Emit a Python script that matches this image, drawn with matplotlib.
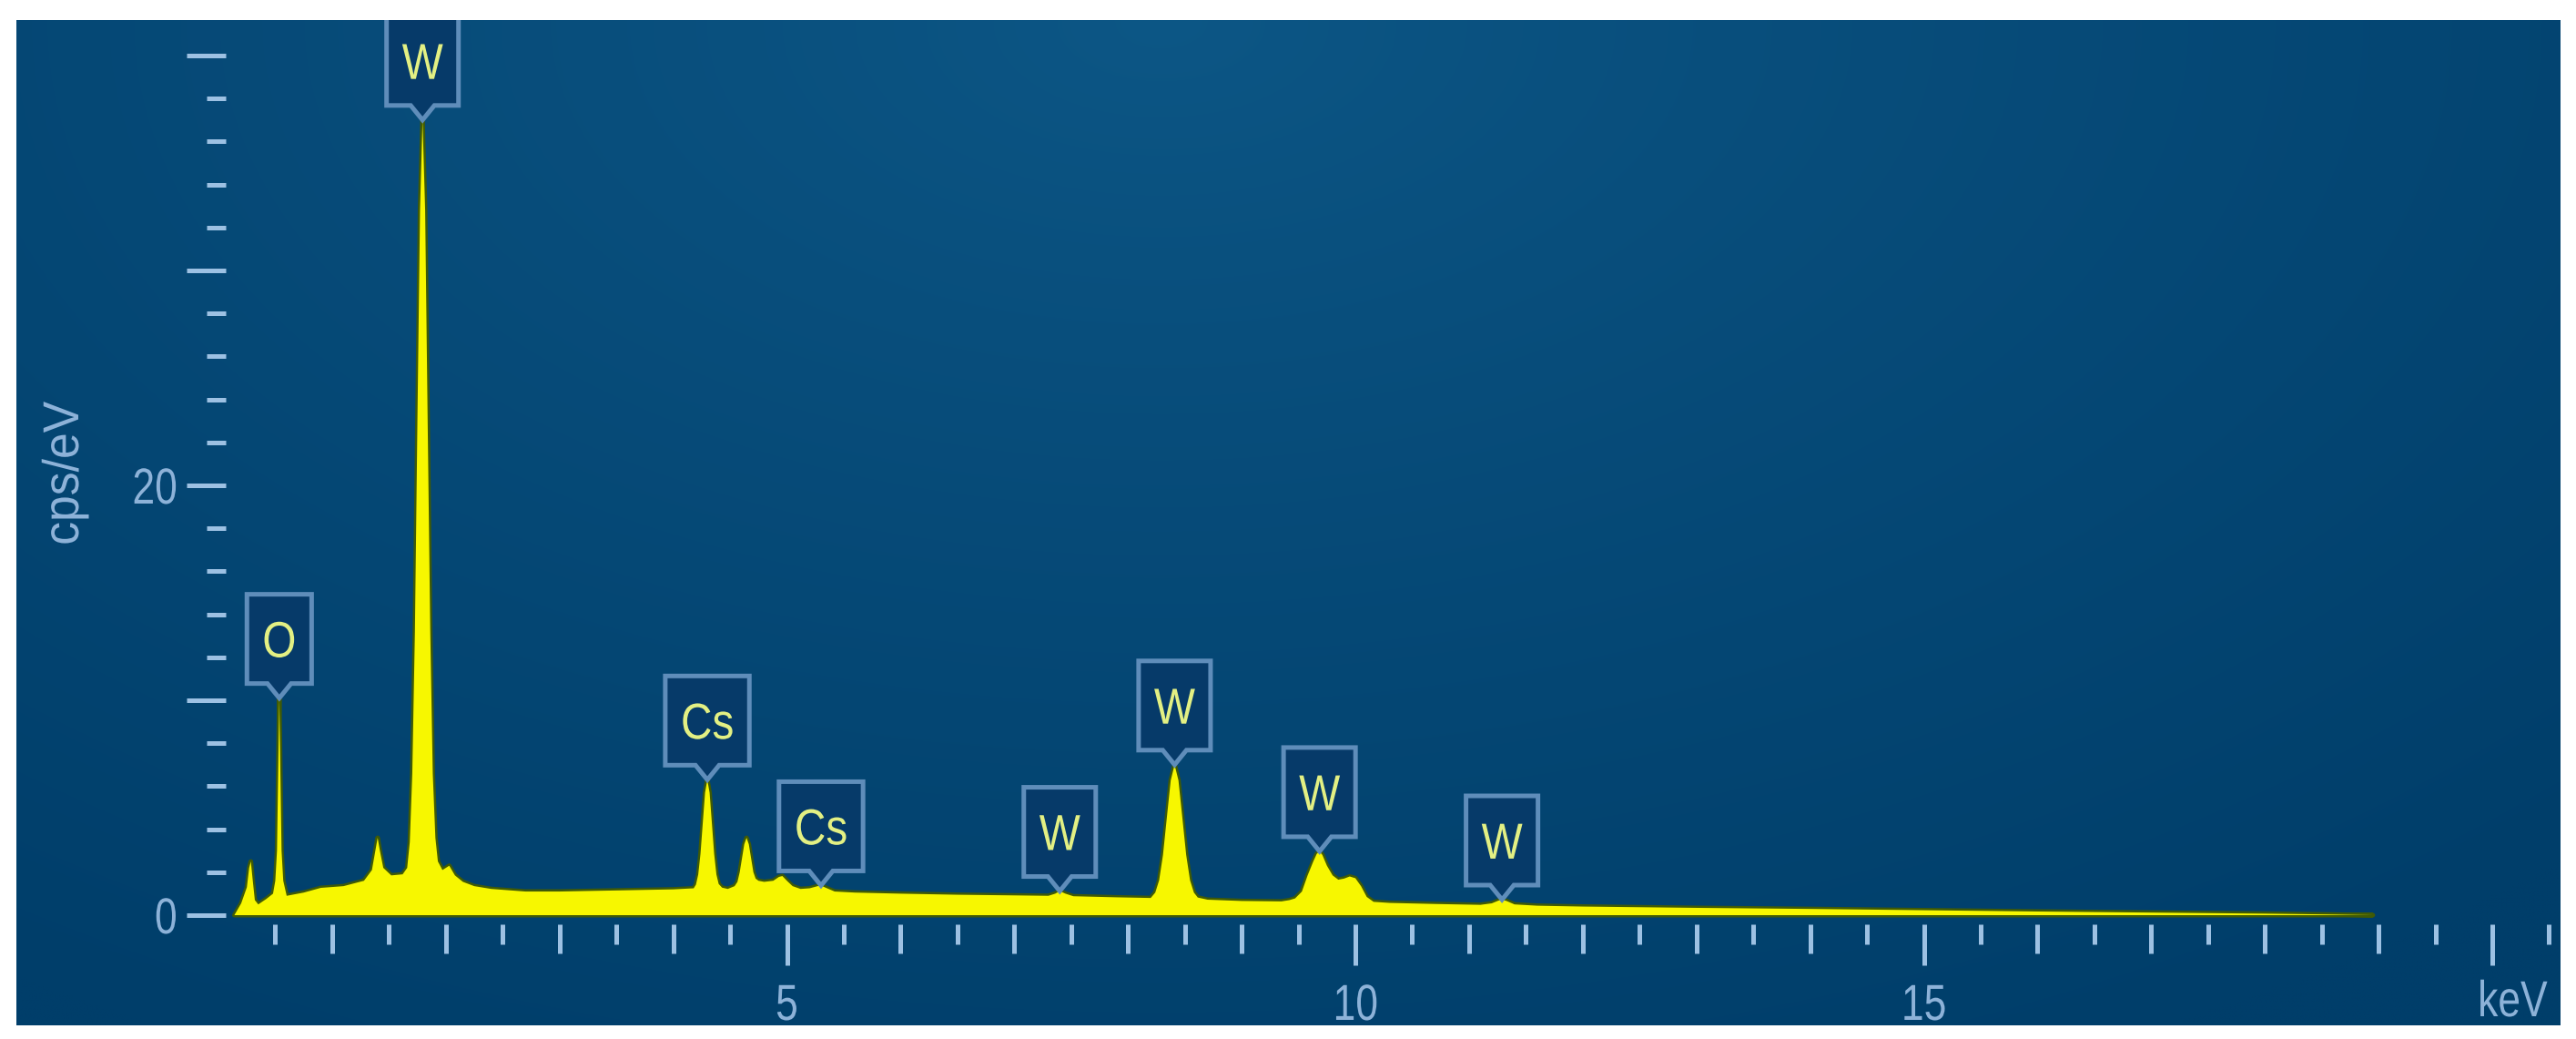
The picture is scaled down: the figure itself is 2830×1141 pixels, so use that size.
import numpy as np
import matplotlib
matplotlib.use('Agg')
import matplotlib.pyplot as plt
import matplotlib.font_manager as fm
import matplotlib.transforms as mtransforms
from matplotlib.patches import Polygon
from matplotlib.patheffects import AbstractPathEffect

# ---------------- data ----------------
energy_keV = [
    0.14, 0.20, 0.25, 0.27, 0.285, 0.30, 0.32, 0.35, 0.42,
    0.48, 0.50, 0.515, 0.525, 0.535, 0.545, 0.555, 0.57, 0.60,
    0.75, 0.90, 1.10, 1.28,
    1.35, 1.38, 1.40, 1.42, 1.45, 1.52, 1.62,
    1.66, 1.683, 1.705, 1.728, 1.75, 1.773, 1.795, 1.818, 1.84, 1.863, 1.885, 1.908, 1.93,
    1.97, 2.03, 2.08, 2.15, 2.25, 2.40, 2.70, 3.00, 3.50, 4.00,
    4.18, 4.20, 4.22, 4.24, 4.26, 4.28, 4.30, 4.32, 4.34, 4.36, 4.38, 4.40, 4.43, 4.48,
    4.54, 4.565, 4.585, 4.605, 4.625, 4.645, 4.665, 4.685, 4.705, 4.725, 4.75, 4.80,
    4.88, 4.93, 4.96, 5.00, 5.05, 5.12, 5.20, 5.27, 5.30, 5.34, 5.42, 5.60,
    6.00, 6.50, 7.00, 7.30, 7.36, 7.40, 7.45, 7.52, 7.90, 8.20,
    8.24, 8.274, 8.308, 8.342, 8.376, 8.41, 8.444, 8.478, 8.512, 8.546, 8.58, 8.614, 8.70,
    9.00, 9.35, 9.42, 9.47, 9.53, 9.58, 9.63, 9.66, 9.685, 9.71, 9.75, 9.80,
    9.85, 9.90, 9.95, 10.00, 10.05, 10.10, 10.16, 10.30, 10.70,
    11.10, 11.20, 11.26, 11.29, 11.33, 11.40, 11.60,
    12.00, 12.50, 13.00, 14.00, 15.00, 16.00, 17.00, 18.00, 18.60, 18.95,
]
cps_per_eV = [
    0.0, 0.55, 1.3, 2.2, 2.5, 1.7, 0.7, 0.5, 0.75,
    1.0, 1.6, 3.0, 6.5, 10.1, 6.5, 3.0, 1.6, 0.9,
    1.05, 1.27, 1.35, 1.6,
    2.1, 3.0, 3.6, 3.0, 2.2, 1.85, 1.9,
    2.2, 3.4, 6.6, 13.2, 23.0, 32.8, 37.0, 32.8, 23.0, 13.2, 6.6, 3.6, 2.5,
    2.1, 2.3, 1.85, 1.55, 1.35, 1.22, 1.1, 1.1, 1.15, 1.2,
    1.25, 1.42, 1.89, 2.86, 4.29, 5.7, 6.3, 5.7, 4.29, 2.86, 1.89, 1.45, 1.28, 1.22,
    1.35, 1.55, 2.0, 2.65, 3.3, 3.6, 3.3, 2.65, 2.0, 1.7, 1.6, 1.55,
    1.6, 1.78, 1.82, 1.6, 1.35, 1.22, 1.25, 1.35, 1.38, 1.28, 1.1, 1.05,
    1.0, 0.95, 0.92, 0.9, 1.0, 1.12, 1.0, 0.88, 0.83, 0.8,
    1.05, 1.62, 2.8, 4.55, 6.27, 7.0, 6.27, 4.55, 2.8, 1.62, 1.05, 0.82, 0.72,
    0.66, 0.64, 0.7, 0.78, 1.1, 1.85, 2.5, 2.85, 2.97, 2.8, 2.3, 1.85,
    1.65, 1.7, 1.8, 1.72, 1.35, 0.85, 0.62, 0.57, 0.52,
    0.48, 0.55, 0.68, 0.72, 0.66, 0.5, 0.44,
    0.4, 0.37, 0.34, 0.29, 0.23, 0.17, 0.12, 0.07, 0.03, 0.0,
]
assert len(energy_keV) == len(cps_per_eV)

peak_elements = ['O', 'W', 'Cs', 'Cs', 'W', 'W', 'W', 'W']
peak_energies = [0.535, 1.795, 4.30, 5.30, 7.40, 8.41, 9.685, 11.29]

x_label_ticks = [5, 10, 15, 20]
x_tick_labels = ['5', '10', '15', '']
x_unit_label = 'keV'
y_major_ticks = [0, 10, 20, 30, 40]
y_tick_labels = ['0', '', '20', '', '']
y_unit_label = 'cps/eV'

# ---------------- style ----------------
names = {f.name for f in fm.fontManager.ttflist}
NARROW = 'Liberation Sans Narrow' in names
FONT = 'Liberation Sans Narrow' if NARROW else 'Liberation Sans'
plt.rcParams['font.family'] = [FONT, 'DejaVu Sans']
SQUEEZE = 1.0 if NARROW else 0.8
SQUEEZE_BOX = 1.0 if NARROW else 0.86
SQUEEZE_YLAB = 1.0 if NARROW else 0.93


class Condense(AbstractPathEffect):
    """Draw text glyphs condensed along the reading direction (narrow UI font look)."""

    def __init__(self, factor=0.8, anchor='center', axis='x'):
        super().__init__()
        self._f = factor
        self._anchor = anchor
        self._axis = axis

    def draw_path(self, renderer, gc, tpath, affine, rgbFace=None):
        ext = tpath.get_extents(affine)
        if self._axis == 'x':
            cx = ext.x1 if self._anchor == 'right' else 0.5 * (ext.x0 + ext.x1)
            extra = mtransforms.Affine2D().translate(-cx, 0).scale(self._f, 1).translate(cx, 0)
        else:
            cy = 0.5 * (ext.y0 + ext.y1)
            extra = mtransforms.Affine2D().translate(0, -cy).scale(1, self._f).translate(0, cy)
        renderer.draw_path(gc, tpath, affine + extra, rgbFace)


W, H, DPI = 2830, 1141, 100
TICK_C = '#9dc1e3'
LABEL_C = '#8db2d8'
FS = 40

fig = plt.figure(figsize=(W / DPI, H / DPI), dpi=DPI, facecolor='white')


def px_rect(x0, y0, x1, y1):
    return [x0 / W, 1 - y1 / H, (x1 - x0) / W, (y1 - y0) / H]


# gradient panel background
bg = fig.add_axes(px_rect(18, 22, 2813, 1126))
gy, gx = np.mgrid[0:1:220j, 0:1:560j]
d = np.sqrt(((gx - 0.45) / 0.8) ** 2 + (gy / 1.15) ** 2)
d = np.clip(d, 0, 1) ** 0.85
inner = np.array([13, 87, 134]) / 255
outer = np.array([0, 62, 106]) / 255
img = inner[None, None, :] * (1 - d[..., None]) + outer[None, None, :] * d[..., None]
bg.imshow(img, aspect='auto', extent=(0, 1, 0, 1), origin='upper', interpolation='bilinear')
bg.set_axis_off()

# main axes
PX_KEV = 124.9
PX_UNIT = 23.6
X0_PX = 240
Y0_PX = 1005
L, T, R, B = 248, 22, 2813, 1015
ax = fig.add_axes(px_rect(L, T, R, B))
ax.set_facecolor('none')
ax.set_xlim((L - X0_PX) / PX_KEV, (R - X0_PX) / PX_KEV)
ax.set_ylim(-(B - Y0_PX) / PX_UNIT, (Y0_PX - T) / PX_UNIT)
for s in ax.spines.values():
    s.set_visible(False)

# spectrum
ax.fill_between(energy_keV, 0, cps_per_eV, facecolor='none', edgecolor='#3f5a06',
                linewidth=3.6, zorder=2)
ax.fill_between(energy_keV, 0, cps_per_eV, facecolor='#f7f700', edgecolor='none',
                linewidth=0, zorder=3)

# y ticks
pt = 72 / DPI
ax.set_yticks(y_major_ticks)
ax.set_yticklabels(y_tick_labels)
ax.set_yticks(np.arange(2, 40, 2), minor=True)
ax.tick_params(axis='y', which='major', direction='out', length=43 * pt, width=5 * pt,
               color=TICK_C, labelcolor=LABEL_C, labelsize=FS, pad=10 * pt)
ax.tick_params(axis='y', which='minor', direction='out', length=21 * pt, width=5 * pt,
               color=TICK_C)

# x ticks
ax.set_xticks(x_label_ticks)
ax.set_xticklabels(x_tick_labels)
ax.set_xticks(np.arange(0.5, 20.6, 1.0), minor=True)
ax.tick_params(axis='x', which='major', direction='out', length=45 * pt, width=5 * pt,
               color=TICK_C, labelcolor=LABEL_C, labelsize=FS, pad=20 * pt)
ax.tick_params(axis='x', which='minor', direction='out', length=22 * pt, width=5 * pt,
               color=TICK_C)
int_ticks = [k for k in range(1, 21) if k % 5 != 0]
ax.vlines(int_ticks, 0, -32 / (B - T), transform=ax.get_xaxis_transform(),
          colors=TICK_C, linewidth=5 * pt, clip_on=False)

# unit labels
fig.text(2760 / W, 1 - 1102 / H, x_unit_label, color=LABEL_C, fontsize=FS,
         ha='center', va='center', path_effects=[Condense(SQUEEZE)])
fig.text(72 / W, 1 - 520 / H, y_unit_label, color=LABEL_C, fontsize=FS,
         rotation=90, ha='center', va='center',
         path_effects=[Condense(SQUEEZE_YLAB, axis='y')])

# peak callouts
fig.canvas.draw()
renderer = fig.canvas.get_renderer()
for lab in ax.get_xticklabels():
    lab.set_path_effects([Condense(SQUEEZE)])
for lab in ax.get_yticklabels():
    lab.set_path_effects([Condense(SQUEEZE, anchor='right')])

PTR_H, PTR_HW, BOX_H, PAD = 16, 13, 98, 17
CAP = 0.716 * FS / pt
for el, e in zip(peak_elements, peak_energies):
    v = float(np.interp(e, energy_keV, cps_per_eV))
    px, py = ax.transData.transform((e, v))
    anchor = mtransforms.Affine2D().translate(px, py)
    t = ax.text(0, PTR_H + BOX_H / 2 - CAP / 2, el, transform=anchor, ha='center',
                va='baseline', fontsize=FS, color='#e3f083', zorder=7,
                path_effects=[Condense(SQUEEZE_BOX)])
    tw = t.get_window_extent(renderer).width * SQUEEZE_BOX
    hw = tw / 2 + PAD
    verts = [(-hw, PTR_H), (-PTR_HW, PTR_H), (0, 0), (PTR_HW, PTR_H), (hw, PTR_H),
             (hw, PTR_H + BOX_H), (-hw, PTR_H + BOX_H)]
    poly = Polygon(verts, closed=True, transform=anchor, facecolor='#063a69',
                   edgecolor='#5f8dba', linewidth=5 * pt, joinstyle='miter', zorder=6)
    ax.add_patch(poly)
    poly.set_clip_path(ax.patch)
    t.set_clip_path(ax.patch)

fig.savefig('out.png', dpi=DPI, facecolor='white')
